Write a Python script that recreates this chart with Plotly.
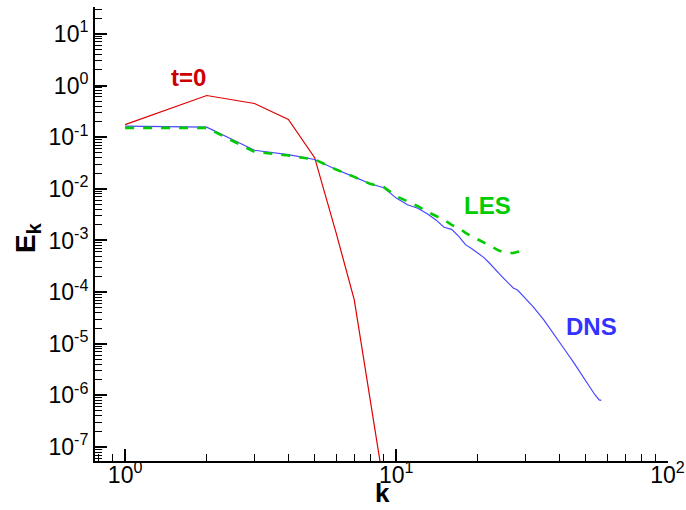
import math
import plotly.graph_objects as go

# t=0 initial spectrum
k_t0 = [1, 2, 3, 4, 5, 6, 7, 8, 9]
e_t0 = [0.175, 0.64, 0.448, 0.22, 0.040, 1.4e-3, 7.1e-5, 9.5e-7, 1.8e-8]

# DNS spectrum
k_dns = [1, 2, 3, 4, 5, 6, 7, 8, 9, 10, 11, 12, 13, 14, 15, 16, 17, 18, 19, 20,
         21, 22, 23, 24, 25, 26, 27, 28, 30, 32, 35, 38, 40, 42, 45, 48, 50, 52,
         54, 56, 57]
e_dns = [0.163, 0.156, 0.0557, 0.046, 0.037, 0.0236, 0.017, 0.0125, 0.0105,
         6.6e-3, 4.9e-3, 4.2e-3, 3.3e-3, 2.5e-3, 1.8e-3, 1.64e-3, 1.2e-3,
         8.3e-4, 6.9e-4, 5.7e-4, 4.7e-4, 3.7e-4, 2.8e-4, 2.25e-4, 1.8e-4,
         1.45e-4, 1.2e-4, 1.1e-4, 7.6e-5, 5.2e-5, 2.9e-5, 1.6e-5, 1.07e-5,
         7.4e-6, 4.4e-6, 2.6e-6, 1.9e-6, 1.4e-6, 1.03e-6, 8.2e-7, 8.0e-7]

# LES spectrum
k_les = list(range(1, 31))
e_les = [0.151, 0.151, 0.052, 0.044, 0.037, 0.0236, 0.017, 0.0125, 0.0108,
         7.2e-3, 5.7e-3, 4.6e-3, 3.6e-3, 3.0e-3, 2.5e-3, 2.0e-3, 1.75e-3,
         1.4e-3, 1.2e-3, 1.04e-3, 9.2e-4, 7.9e-4, 7.1e-4, 6.3e-4, 6.0e-4,
         5.7e-4, 5.7e-4, 6.0e-4, 6.3e-4, 5.1e-4]

# curve labels (text, k, E, colour)
label_text = ["t=0", "LES", "DNS"]
label_k = [1.71, 21.7, 52.5]
label_e = [1.43, 4.7e-3, 2.15e-5]
label_color = ["#CC0000", "#00CC00", "#3333FF"]

x_title = "k"
y_title = "E<sub>k</sub>"

x_major = [1, 10, 100]
x_major_text = ["10<sup>0</sup>", "10<sup>1</sup>", "10<sup>2</sup>"]
y_major = [1e-7, 1e-6, 1e-5, 1e-4, 1e-3, 1e-2, 1e-1, 1, 10]
y_major_text = ["10<sup>-7</sup>", "10<sup>-6</sup>", "10<sup>-5</sup>", "10<sup>-4</sup>",
                "10<sup>-3</sup>", "10<sup>-2</sup>", "10<sup>-1</sup>", "10<sup>0</sup>",
                "10<sup>1</sup>"]
x_minor = [m * 10 ** d for d in range(-1, 2) for m in range(2, 10)]
y_minor = [m * 10 ** d for d in range(-8, 2) for m in range(2, 10)]

fig = go.Figure()
fig.add_trace(go.Scatter(x=k_t0, y=e_t0, mode="lines",
                         line=dict(color="#E00000", width=1.2), showlegend=False))
fig.add_trace(go.Scatter(x=k_dns, y=e_dns, mode="lines",
                         line=dict(color="#4848FF", width=1.2), showlegend=False))
fig.add_trace(go.Scatter(x=k_les, y=e_les, mode="lines",
                         line=dict(color="#00CC00", width=2.6, dash="dash"),
                         showlegend=False))

for txt, lx, ly, col in zip(label_text, label_k, label_e, label_color):
    fig.add_annotation(x=math.log10(lx), y=math.log10(ly), xref="x", yref="y",
                       text="<b>" + txt + "</b>", showarrow=False,
                       font=dict(family="Liberation Sans", size=24, color=col),
                       xanchor="center", yanchor="middle")

# axis titles placed as paper annotations
fig.add_annotation(x=0.5026, y=-0.071, xref="paper", yref="paper",
                   text="<b>" + x_title + "</b>", showarrow=False,
                   font=dict(family="Liberation Sans", size=26, color="black"),
                   xanchor="center", yanchor="middle")
fig.add_annotation(x=-0.119, y=0.491, xref="paper", yref="paper",
                   text="<b>" + y_title + "</b>", showarrow=False,
                   font=dict(family="Liberation Sans", size=28, color="black"),
                   textangle=-90, xanchor="center", yanchor="middle")

font = dict(family="Liberation Sans", size=23, color="black")
fig.update_layout(
    width=686, height=510,
    margin=dict(l=95, r=18, t=7, b=49),
    paper_bgcolor="white", plot_bgcolor="white",
    font=font,
    xaxis=dict(type="log", range=[-0.111, 2.002], automargin=False,
               tickmode="array", tickvals=x_major, ticktext=x_major_text,
               ticks="inside", ticklen=12, tickwidth=2, tickcolor="black",
               ticklabelstandoff=-8,
               showline=True, linecolor="black", linewidth=2, showgrid=False,
               zeroline=False, tickfont=font,
               minor=dict(tickmode="array", tickvals=x_minor, ticks="inside",
                          ticklen=7, tickwidth=1, tickcolor="black", showgrid=False)),
    yaxis=dict(type="log", range=[-7.27, 1.52], automargin=False,
               tickmode="array", tickvals=y_major, ticktext=y_major_text,
               ticks="inside", ticklen=12, tickwidth=2, tickcolor="black",
               showline=True, linecolor="black", linewidth=2, showgrid=False,
               zeroline=False, tickfont=font,
               minor=dict(tickmode="array", tickvals=y_minor, ticks="inside",
                          ticklen=7, tickwidth=1, tickcolor="black", showgrid=False)),
)

fig.write_html("out.html")
